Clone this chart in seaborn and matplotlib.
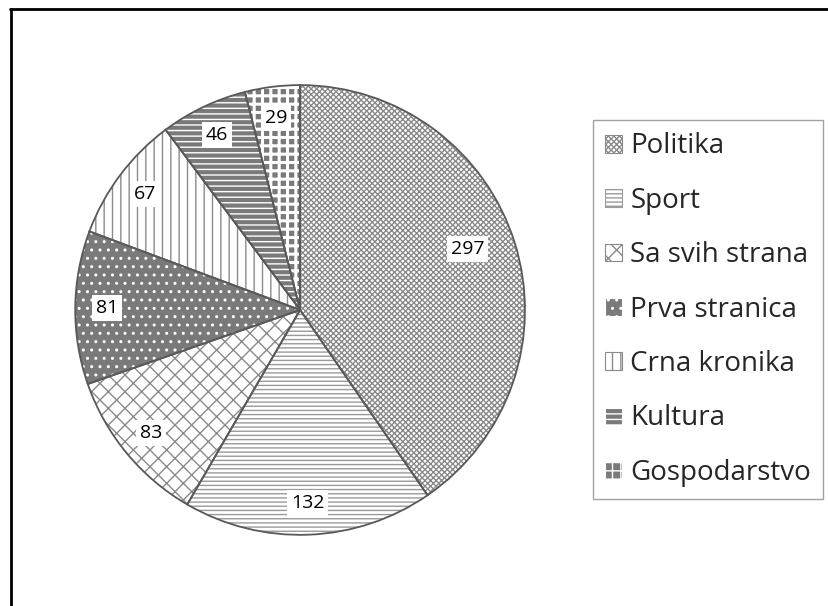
import matplotlib
matplotlib.use("Agg")
import matplotlib.pyplot as plt
import seaborn as sns
from matplotlib.lines import Line2D

# data
categories = ["Politika", "Sport", "Sa svih strana", "Prva stranica",
              "Crna kronika", "Kultura", "Gospodarstvo"]
counts = [297, 132, 83, 81, 67, 46, 29]

sns.set_theme(style="white")
plt.rcParams["font.family"] = ["Open Sans", "DejaVu Sans"]
plt.rcParams["hatch.linewidth"] = 1.0

# fill / hatch styling to mimic the Excel pattern fills
faces = ["white", "white", "white", "#7a7a7a", "white", "#7a7a7a", "#7a7a7a"]
hatch_cols = ["#8a8a8a", "#9a9a9a", "#8a8a8a", "white", "#8a8a8a", "white", "white"]
hatches = ["xxxxxx", "----", "xx", "..", "||", "---", "++"]
hatch_widths = [1.0, 1.0, 1.0, 1.0, 1.0, 1.0, 2.2]

fig = plt.figure(figsize=(8.29, 6.06), dpi=100)
ax = fig.add_axes([0.085, 0.11, 0.554, 0.757])

total = sum(counts)
wedges, _, autotexts = ax.pie(
    counts, startangle=90, counterclock=False, radius=1.0,
    colors=faces, autopct=lambda p: f"{round(p * total / 100)}",
    pctdistance=0.86, labels=None,
    wedgeprops=dict(linewidth=0),
    textprops=dict(fontsize=14, color="black"),
)
for w, h, hc, hw in zip(wedges, hatches, hatch_cols, hatch_widths):
    w.set_hatch(h)
    w.set_edgecolor(hc)
    if hasattr(w, "set_hatch_linewidth"):
        w.set_hatch_linewidth(hw)
for t in autotexts:
    t.set_bbox(dict(facecolor="white", edgecolor="none", pad=3))
autotexts[0].set_position((0.745, 0.27))

# outlines on top
ax.pie(counts, startangle=90, counterclock=False, radius=1.0,
       colors=["none"] * len(counts),
       wedgeprops=dict(linewidth=1.3, edgecolor="#595959", fill=False))
ax.set_aspect("equal")
ax.set_xlim(-1.02, 1.02)
ax.set_ylim(-1.02, 1.02)
ax.axis("off")

handles = []
for w, hw in zip(wedges, hatch_widths):
    p = plt.Rectangle((0, 0), 1, 1, facecolor=w.get_facecolor(),
                      hatch=w.get_hatch(), edgecolor=w.get_edgecolor(), linewidth=0.8)
    if hasattr(p, "set_hatch_linewidth"):
        p.set_hatch_linewidth(min(hw, 1.5))
    handles.append(p)
leg = fig.legend(handles, categories, loc="upper left",
                 bbox_to_anchor=(0.715, 0.802), frameon=True, fancybox=False,
                 fontsize=20, labelspacing=0.95, handlelength=0.61, handleheight=0.61,
                 handletextpad=0.29, borderpad=0.45, borderaxespad=0)
leg.get_frame().set_edgecolor("#8a8a8a")
leg.get_frame().set_linewidth(1.0)

# cropped chart border (top and left only)
fig.add_artist(Line2D([0.012, 1.0], [0.985, 0.985], color="black", lw=2, transform=fig.transFigure))
fig.add_artist(Line2D([0.013, 0.013], [0.0, 0.985], color="black", lw=2, transform=fig.transFigure))

fig.savefig("out.png", dpi=100, facecolor="white")
